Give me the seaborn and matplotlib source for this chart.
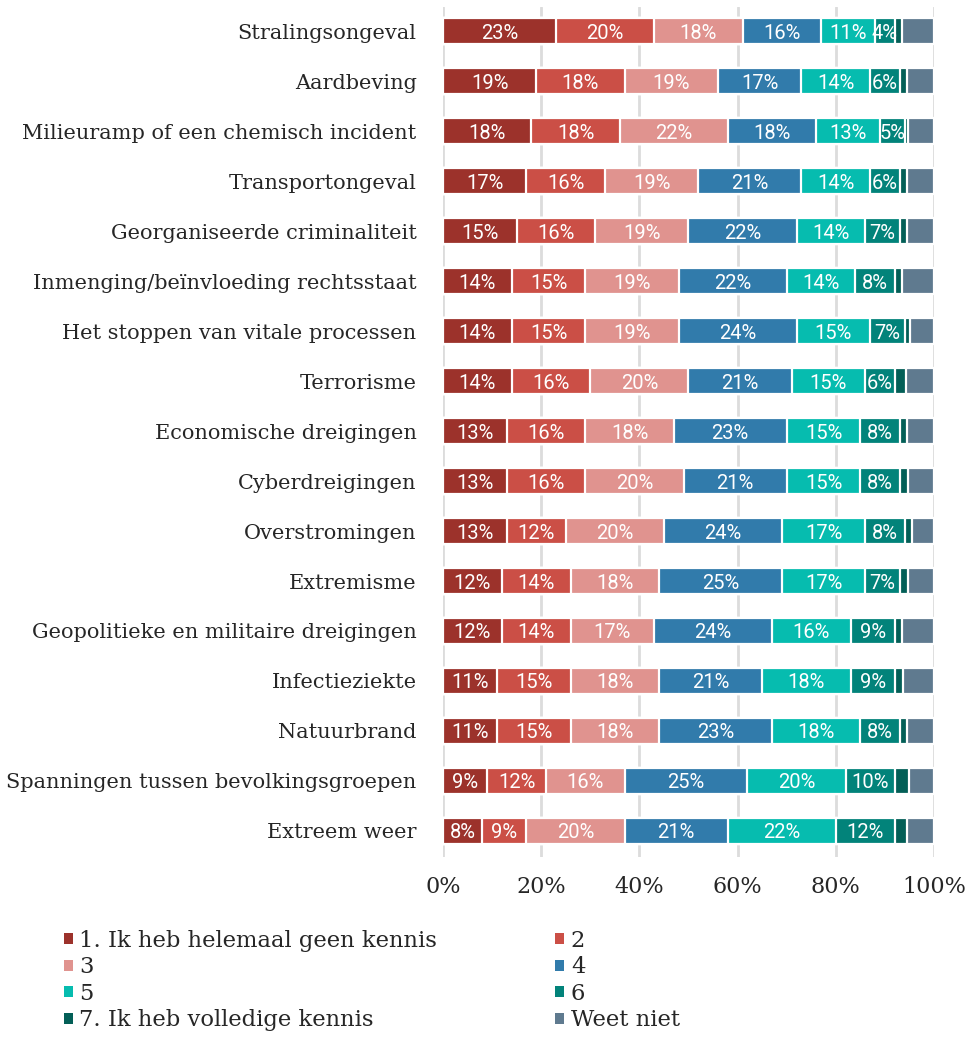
import numpy as np
import pandas as pd
import matplotlib.pyplot as plt
import seaborn as sns
from matplotlib.patches import Patch

# data (percentages per knowledge level)

categories = [
    "Stralingsongeval",
    "Aardbeving",
    "Milieuramp of een chemisch incident",
    "Transportongeval",
    "Georganiseerde criminaliteit",
    "Inmenging/beïnvloeding rechtsstaat",
    "Het stoppen van vitale processen",
    "Terrorisme",
    "Economische dreigingen",
    "Cyberdreigingen",
    "Overstromingen",
    "Extremisme",
    "Geopolitieke en militaire dreigingen",
    "Infectieziekte",
    "Natuurbrand",
    "Spanningen tussen bevolkingsgroepen",
    "Extreem weer",
]

levels = ["1. Ik heb helemaal geen kennis", "2", "3", "4", "5", "6",
          "7. Ik heb volledige kennis", "Weet niet"]

lvl1 = [23, 19, 18, 17, 15, 14, 14, 14, 13, 13, 13, 12, 12, 11, 11, 9, 8]
lvl2 = [20, 18, 18, 16, 16, 15, 15, 16, 16, 16, 12, 14, 14, 15, 15, 12, 9]
lvl3 = [18, 19, 22, 19, 19, 19, 19, 20, 18, 20, 20, 18, 17, 18, 18, 16, 20]
lvl4 = [16, 17, 18, 21, 22, 22, 24, 21, 23, 21, 24, 25, 24, 21, 23, 25, 21]
lvl5 = [11, 14, 13, 14, 14, 14, 15, 15, 15, 15, 17, 17, 16, 18, 18, 20, 22]
lvl6 = [4, 6, 5, 6, 7, 8, 7, 6, 8, 8, 8, 7, 9, 9, 8, 10, 12]
lvl7 = [1.5, 1.5, 0.8, 1.5, 1.5, 1.5, 1.2, 2.2, 1.5, 1.8, 1.6, 1.7, 1.4, 1.7, 1.5, 2.9, 2.5]
weet_niet = [6.5, 5.5, 5.2, 5.5, 5.5, 6.5, 4.8, 5.8, 5.5, 5.2, 4.4, 5.3, 6.6, 6.3, 5.5, 5.1, 5.5]

colors = ["#9c322b", "#cb4f46", "#e0938f", "#317bab",
          "#06bcaf", "#02837a", "#035f57", "#5f7a8f"]

series = [lvl1, lvl2, lvl3, lvl4, lvl5, lvl6, lvl7, weet_niet]
values = np.array(series, dtype=float).T          # rows = categories
cum = np.cumsum(values, axis=1)

sns.set_style("white")
plt.rcParams['font.family'] = ['DejaVu Serif']

fig = plt.figure(figsize=(9.71, 10.37), dpi=100)
ax = fig.add_axes([0.4562, 0.1736, 0.5057, 0.8196])

# stacked bars: draw cumulative totals from the widest to the narrowest
for k in range(len(levels) - 1, -1, -1):
    df = pd.DataFrame({"cat": categories, "val": cum[:, k]})
    sns.barplot(data=df, x="val", y="cat", order=categories, color=colors[k],
                saturation=1, width=0.52, edgecolor="white", linewidth=1.6,
                errorbar=None, ax=ax, zorder=3)

# percentage labels for levels 1..6
for i in range(len(categories)):
    for k in range(6):
        left = cum[i, k] - values[i, k]
        ax.text(left + values[i, k] / 2, i, f"{int(values[i, k])}%",
                ha="center", va="center_baseline", color="white",
                fontsize=14.5, family="Roboto", zorder=5)

ax.set_xlim(0, 100)
ax.set_ylim(16.52, -0.48)
ax.set_xticks([0, 20, 40, 60, 80, 100])
ax.set_xticklabels(["0%", "20%", "40%", "60%", "80%", "100%"])
ax.set_xlabel("")
ax.set_ylabel("")
ax.grid(axis="x", color="#dcdcdc", linewidth=2, zorder=0)
ax.set_axisbelow(True)
for s in ax.spines.values():
    s.set_visible(False)
ax.tick_params(axis="x", length=0, pad=14, labelsize=16)
ax.tick_params(axis="y", length=0, pad=19, labelsize=15)

# legend in two columns, row order 1 2 / 3 4 / 5 6 / 7 WN
handles = [Patch(facecolor=c, edgecolor="none") for c in colors]
left_idx = [0, 2, 4, 6]
right_idx = [1, 3, 5, 7]
leg_kw = dict(loc="upper left", frameon=False, fontsize=16.3, handlelength=0.38,
              handleheight=0.38, handletextpad=0.3, labelspacing=0.2,
              borderpad=0, borderaxespad=0)
fig.legend([handles[i] for i in left_idx], [levels[i] for i in left_idx],
           bbox_to_anchor=(0.066, 0.1035), **leg_kw)
fig.legend([handles[i] for i in right_idx], [levels[i] for i in right_idx],
           bbox_to_anchor=(0.572, 0.1035), **leg_kw)

fig.savefig("out.png", dpi=100)
